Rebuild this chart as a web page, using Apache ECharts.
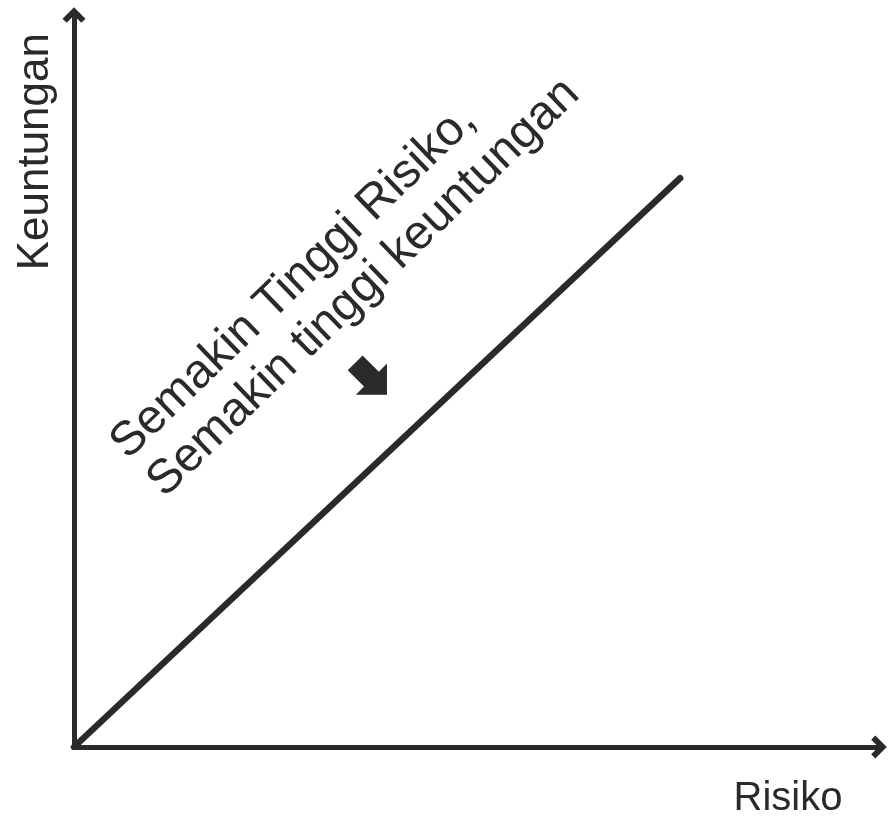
<!DOCTYPE html>
<html>
<head>
<meta charset="utf-8">
<script src="https://cdn.jsdelivr.net/npm/echarts@6/dist/echarts.min.js"></script>
<style>
  html, body { margin: 0; padding: 0; background: #fff; }
  #chart { width: 889px; height: 819px; }
</style>
</head>
<body>
<div id="chart"></div>
<script>
// values (axes run 0..100)
const risk = [0, 75.3];
const returns = [0, 77.7];
const arrowRisk = [36.9];
const arrowReturn = [50.3];
const noteLines = ["Semakin Tinggi Risiko,", "Semakin tinggi keuntungan"];
const xTitle = "Risiko";
const yTitle = "Keuntungan";

const INK = "#2a2a2a";
const FONT = "'Liberation Sans', Arial, sans-serif";

const chart = echarts.init(document.getElementById("chart"));

// chevron head for the axis ends, block arrow for the note
const axisHead = "path://M11,0 L22,11 L18,15 L11,8 L4,15 L0,11 Z";
const blockArrow = "path://M21,0 L42,21 L31,21 L31,43 L11,43 L11,21 L0,21 Z";

const axisLine = {
  show: true,
  symbol: ["none", axisHead],
  symbolSize: [23, 16],
  lineStyle: { color: INK, width: 5 },
};

chart.setOption({
  animation: false,
  grid: { left: 74, right: 10, top: 15, bottom: 68 },
  xAxis: {
    type: "value",
    min: 0,
    max: 100,
    name: xTitle,
    nameLocation: "end",
    nameGap: -91,
    nameTextStyle: {
      color: INK,
      fontFamily: FONT,
      fontSize: 40,
      align: "center",
      verticalAlign: "top",
      padding: [32, 0, 0, 0],
    },
    axisLine: axisLine,
    axisTick: { show: false },
    axisLabel: { show: false },
    splitLine: { show: false },
  },
  yAxis: {
    type: "value",
    min: 0,
    max: 100,
    name: yTitle,
    nameLocation: "end",
    nameRotate: 90,
    nameGap: -18,
    nameTextStyle: {
      color: INK,
      fontFamily: FONT,
      fontSize: 44,
      align: "right",
      verticalAlign: "bottom",
      padding: [0, 0, 16, 0],
    },
    axisLine: axisLine,
    axisTick: { show: false },
    axisLabel: { show: false },
    splitLine: { show: false },
  },
  graphic: [
    {
      type: "text",
      x: 137,
      y: 470,
      rotation: (44 * Math.PI) / 180,
      style: {
        text: noteLines.join("\n"),
        fill: INK,
        font: "48px " + FONT,
        lineHeight: 53,
        align: "left",
        verticalAlign: "middle",
      },
    },
  ],
  series: [
    {
      type: "line",
      data: risk.map((r, i) => [r, returns[i]]),
      symbol: "none",
      lineStyle: { color: INK, width: 6.5, cap: "round" },
      z: 1,
    },
    {
      type: "scatter",
      data: arrowRisk.map((r, i) => [r, arrowReturn[i]]),
      symbol: blockArrow,
      symbolSize: [44, 45],
      symbolRotate: -135,
      itemStyle: { color: INK, opacity: 1 },
    },
  ],
});
</script>
</body>
</html>
